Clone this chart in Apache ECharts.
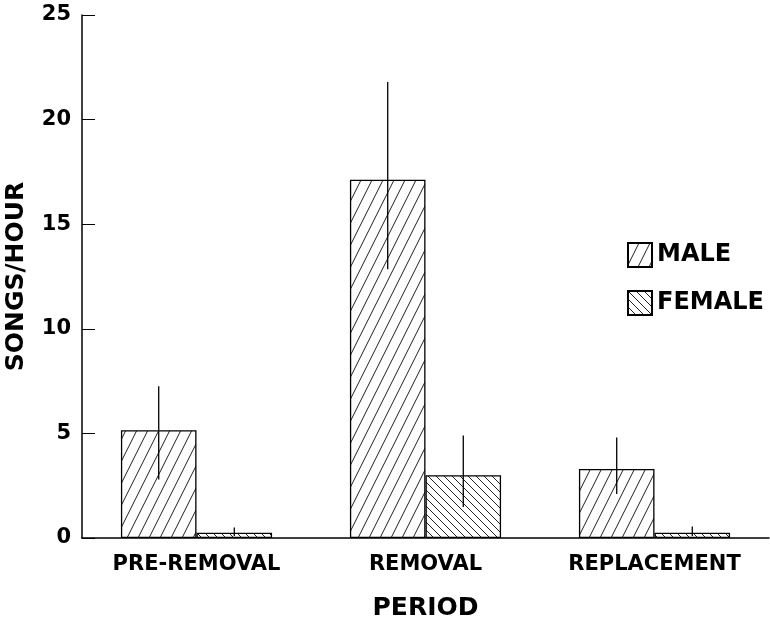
<!DOCTYPE html>
<html>
<head>
<meta charset="utf-8">
<script src="https://cdn.jsdelivr.net/npm/echarts@6/dist/echarts.min.js"></script>
<style>html,body{margin:0;padding:0;background:#fff}#c{width:770px;height:628px}</style>
</head>
<body>
<div id="c"></div>
<script>
const categories = ['PRE-REMOVAL', 'REMOVAL', 'REPLACEMENT'];
const maleValues = [5.15, 17.13, 3.3];
const femaleValues = [0.25, 3.0, 0.25];
const maleErrLow = [2.8, 12.85, 2.1];
const maleErrHigh = [7.25, 21.8, 4.8];
const femaleErrLow = [0.1, 1.48, 0.1];
const femaleErrHigh = [0.5, 4.9, 0.55];
const yTicks = [0, 5, 10, 15, 20, 25];

function hatch(dir) {
  const c = document.createElement('canvas');
  let w, h;
  if (dir === 'male') { w = 11; h = 22; } else { w = 8; h = 8; }
  c.width = w; c.height = h;
  const g = c.getContext('2d');
  g.fillStyle = '#fff'; g.fillRect(0, 0, w, h);
  g.strokeStyle = '#222'; g.lineWidth = 1;
  for (let k = -1; k <= 1; k++) {
    g.beginPath();
    if (dir === 'male') { g.moveTo(k * w, h); g.lineTo(k * w + w, 0); }
    else { g.moveTo(k * w, 0); g.lineTo(k * w + w, h); }
    g.stroke();
  }
  return c;
}

const font = 'DejaVu Sans';
const chart = echarts.init(document.getElementById('c'));

function errSeries(name, low, high, side) {
  return {
    type: 'custom',
    name: name + '_err',
    data: categories.map((c, i) => [i, low[i], high[i]]),
    encode: { x: 0, y: [1, 2] },
    z: 10,
    silent: true,
    renderItem: function (params, api) {
      const band = api.size([1, 0])[0];
      const off = side * band * 0.66 / 4;
      const p1 = api.coord([api.value(0), api.value(1)]);
      const p2 = api.coord([api.value(0), api.value(2)]);
      return {
        type: 'line',
        shape: { x1: p1[0] + off, y1: p1[1], x2: p2[0] + off, y2: p2[1] },
        style: { stroke: '#000', lineWidth: 1.3 }
      };
    }
  };
}

chart.setOption({
  animation: false,
  backgroundColor: '#fff',
  grid: { left: 82, right: 1, top: 15, bottom: 90, containLabel: false, outerBoundsMode: 'none' },
  legend: {
    orient: 'vertical',
    left: 627, top: 242, padding: 0,
    itemWidth: 24, itemHeight: 24, itemGap: 22,
    icon: 'rect',
    data: ['MALE', 'FEMALE'],
    textStyle: { fontFamily: font, fontWeight: 'bold', fontSize: 24, color: '#000', padding: [0, 0, 0, 0] }
  },
  xAxis: {
    type: 'category',
    data: categories,
    name: 'PERIOD',
    nameLocation: 'middle',
    nameGap: 58,
    nameTextStyle: { fontFamily: font, fontWeight: 'bold', fontSize: 25, color: '#000' },
    axisLine: { lineStyle: { color: '#000', width: 1.5 } },
    axisTick: { show: false },
    axisLabel: { fontFamily: font, fontWeight: 'bold', fontSize: 21, color: '#000', margin: 16 }
  },
  yAxis: {
    type: 'value',
    min: 0, max: 25, interval: 5,
    name: 'SONGS/HOUR',
    nameLocation: 'middle',
    nameGap: 53,
    nameTextStyle: { fontFamily: font, fontWeight: 'bold', fontSize: 25, color: '#000' },
    axisLine: { show: true, lineStyle: { color: '#000', width: 1.5 } },
    axisTick: { show: true, inside: true, length: 13, lineStyle: { color: '#000' } },
    splitLine: { show: false },
    axisLabel: { fontFamily: font, fontWeight: 'bold', fontSize: 21, color: '#000', margin: 11,
      formatter: v => yTicks.includes(v) ? String(v) : '' }
  },
  series: [
    {
      type: 'bar', name: 'MALE', data: maleValues,
      barGap: '0%', barCategoryGap: '34%',
      itemStyle: { color: { image: hatch('male'), repeat: 'repeat' }, borderColor: '#000', borderWidth: 1.3 }
    },
    {
      type: 'bar', name: 'FEMALE', data: femaleValues,
      barGap: '0%', barCategoryGap: '34%',
      itemStyle: { color: { image: hatch('female'), repeat: 'repeat' }, borderColor: '#000', borderWidth: 1.3 }
    },
    errSeries('MALE', maleErrLow, maleErrHigh, -1),
    errSeries('FEMALE', femaleErrLow, femaleErrHigh, 1)
  ]
});
</script>
</body>
</html>
